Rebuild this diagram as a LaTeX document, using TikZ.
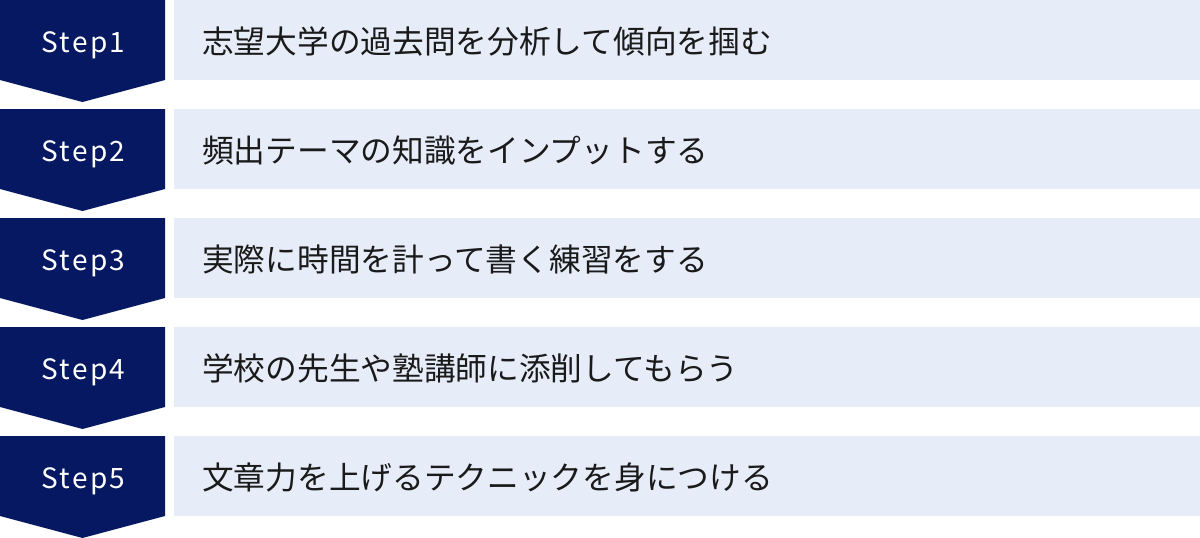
\documentclass[tikz,border=0pt]{standalone}
\usepackage{fontspec}
\usepackage{tikz}
\newfontfamily\jpfont{Noto Sans CJK JP}
\newfontfamily\stepfont[LetterSpace=8]{Noto Sans CJK JP}
\definecolor{stepnavy}{HTML}{061861}
\definecolor{bandblue}{HTML}{E6ECF8}
\definecolor{desctext}{HTML}{1A1A1A}

\begin{document}
\begin{tikzpicture}[x=1pt,y=-1pt]
    \newcommand{\chevron}[1]{\fill[stepnavy] (0,#1) -- (165,#1) -- (165,#1+80) -- (82.5,#1+102) -- (0,#1+80) -- cycle;}

    \tikzstyle{band}=[
      fill=bandblue,
      anchor=north west,
      minimum width=1026,
      minimum height=80,
      inner sep=0,
    ]
    \tikzstyle{slabel}=[
      text=white,
      anchor=base,
      inner sep=0,
      font=\stepfont\fontsize{28}{32}\selectfont,
    ]
    \tikzstyle{dlabel}=[
      text=desctext,
      anchor=base west,
      inner sep=0,
      font=\jpfont\fontsize{31.7}{36}\selectfont,
    ]

    \useasboundingbox (0,0) rectangle (1200,538);

    {
      \chevron{0}
      \chevron{109}
      \chevron{218}
      \chevron{327}
      \chevron{436}
    }

    {
      \node[band] (b1) at (174,0) {};
      \node[band] (b2) at (174,109) {};
      \node[band] (b3) at (174,218) {};
      \node[band] (b4) at (174,327) {};
      \node[band] (b5) at (174,436) {};
    }

    {
      \node[slabel] (s1) at (83.5,52) {Step1};
      \node[slabel] (s2) at (83.5,161) {Step2};
      \node[slabel] (s3) at (83.5,270) {Step3};
      \node[slabel] (s4) at (83.5,379) {Step4};
      \node[slabel] (s5) at (83.5,488) {Step5};
    }

    {
      \node[dlabel] (d1) at (202,53) {志望大学の過去問を分析して傾向を掴む};
      \node[dlabel] (d2) at (202,162) {頻出テーマの知識をインプットする};
      \node[dlabel] (d3) at (202,271) {実際に時間を計って書く練習をする};
      \node[dlabel] (d4) at (202,380) {学校の先生や塾講師に添削してもらう};
      \node[dlabel] (d5) at (202,489) {文章力を上げるテクニックを身につける};
    }
\end{tikzpicture}
\end{document}
